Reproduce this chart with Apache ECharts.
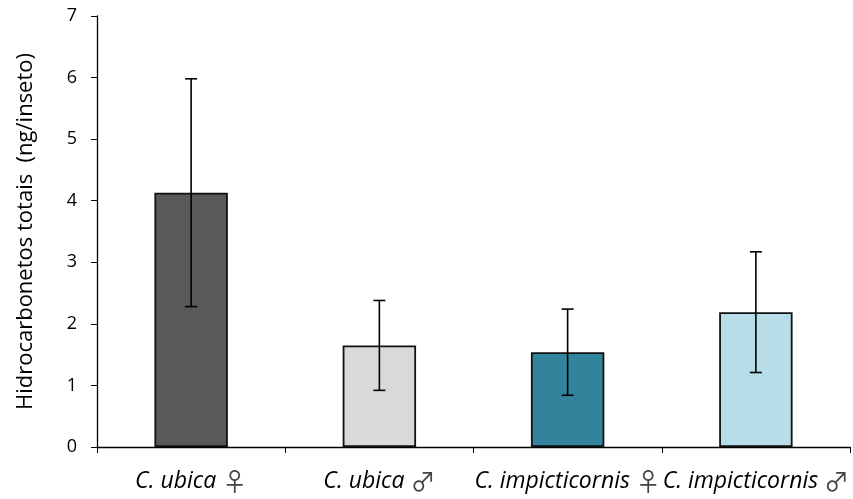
<!DOCTYPE html>
<html>
<head>
<meta charset="utf-8">
<script src="https://cdn.jsdelivr.net/npm/echarts@6/dist/echarts.min.js"></script>
<style>
html,body{margin:0;padding:0;background:#fff;}
#chart{width:853px;height:499px;}
</style>
</head>
<body>
<div id="chart"></div>
<script>
// Species / sex groups
var species = ['C. ubica', 'C. ubica', 'C. impicticornis', 'C. impicticornis'];
var sexSymbols = ['♀', '♂', '♀', '♂'];
// Mean total hydrocarbons (ng/insect) and error (±)
var means = [4.13, 1.65, 1.54, 2.19];
var errors = [1.85, 0.73, 0.70, 0.98];
var barColors = ['#595959', '#d9d9d9', '#31849b', '#b7dee8'];
var yTicks = [0, 1, 2, 3, 4, 5, 6, 7];

var categories = species.map(function (s, i) { return s + '|' + sexSymbols[i]; });

var chart = echarts.init(document.getElementById('chart'));
var font = '"Open Sans", "Liberation Sans", sans-serif';

chart.setOption({
  animation: false,
  grid: { left: 97, right: 3, top: 16, bottom: 52, containLabel: false },
  xAxis: {
    type: 'category',
    data: categories,
    axisLine: { lineStyle: { color: '#000', width: 1.3 } },
    axisTick: { show: true, length: 6, lineStyle: { color: '#000' }, alignWithLabel: false },
    axisLabel: {
      margin: 22,
      formatter: function (v) {
        var p = v.split('|');
        return '{n|' + p[0] + ' }{s|' + p[1] + '}';
      },
      rich: {
        n: { fontFamily: font, fontStyle: 'italic', fontSize: 23, color: '#000' },
        s: { fontFamily: '"Noto Sans CJK JP", "DejaVu Sans", sans-serif', fontSize: 25, color: '#444' }
      }
    }
  },
  yAxis: {
    type: 'value',
    min: yTicks[0],
    max: yTicks[yTicks.length - 1],
    interval: 1,
    name: 'Hidrocarbonetos totais  (ng/inseto)',
    nameLocation: 'middle',
    nameGap: 60,
    nameTextStyle: { fontFamily: font, fontSize: 22, color: '#000' },
    axisLine: { show: true, lineStyle: { color: '#000', width: 1.3 } },
    axisTick: { show: true, inside: false, length: 6, lineStyle: { color: '#000' } },
    axisLabel: { margin: 20, fontFamily: font, fontSize: 18, color: '#000' },
    splitLine: { show: false }
  },
  series: [
    {
      type: 'bar',
      barWidth: '39%',
      data: means.map(function (m, i) {
        return {
          value: m,
          itemStyle: { color: barColors[i], borderColor: '#111', borderWidth: 1.8 }
        };
      }),
      z: 2
    },
    {
      type: 'custom',
      z: 5,
      data: means.map(function (m, i) { return [i, m - errors[i], m + errors[i]]; }),
      renderItem: function (params, api) {
        var x = api.value(0);
        var lo = api.coord([x, api.value(1)]);
        var hi = api.coord([x, api.value(2)]);
        var cap = 6;
        var style = { stroke: '#000', lineWidth: 1.6 };
        return {
          type: 'group',
          children: [
            { type: 'line', shape: { x1: lo[0], y1: lo[1], x2: hi[0], y2: hi[1] }, style: style },
            { type: 'line', shape: { x1: hi[0] - cap, y1: hi[1], x2: hi[0] + cap, y2: hi[1] }, style: style },
            { type: 'line', shape: { x1: lo[0] - cap, y1: lo[1], x2: lo[0] + cap, y2: lo[1] }, style: style }
          ]
        };
      }
    }
  ]
});
</script>
</body>
</html>
